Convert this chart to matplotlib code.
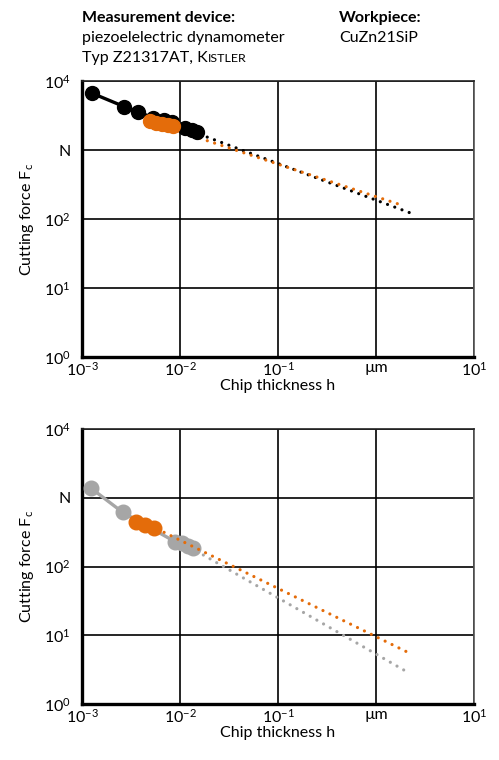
import numpy as np
import matplotlib
matplotlib.use("Agg")
import matplotlib.pyplot as plt

plt.rcParams["font.family"] = ["Lato", "DejaVu Sans"]
plt.rcParams["mathtext.fontset"] = "custom"
plt.rcParams["mathtext.rm"] = "Lato"
plt.rcParams["mathtext.it"] = "Lato:italic"
plt.rcParams["mathtext.bf"] = "Lato:bold"

# top chart: measured points (h in um, Fc in N)
top_black_h = [0.00127, 0.0027, 0.00376, 0.0053, 0.00687, 0.00828, 0.01124, 0.01325, 0.0149]
top_black_f = [6640, 4250, 3590, 2910, 2720, 2550, 2085, 1950, 1820]
top_orange_h = [0.00494, 0.00569, 0.00655, 0.00755, 0.0085]
top_orange_f = [2630, 2460, 2380, 2300, 2230]
# extrapolation lines (start, end)
top_black_trend_h = [0.016, 2.29]
top_black_trend_f = [1683, 121]
top_orange_trend_h = [0.00955, 1.90]
top_orange_trend_f = [1884, 156]

# bottom chart
bot_gray_h = [0.00124, 0.0026, 0.00889, 0.0104, 0.01216, 0.01368]
bot_gray_f = [1372, 614, 230, 217, 199, 184]
bot_orange_h = [0.00356, 0.00439, 0.00547]
bot_orange_f = [449, 402, 360]
bot_gray_trend_h = [0.0173, 2.06]
bot_gray_trend_f = [147, 2.95]
bot_orange_trend_h = [0.00688, 2.11]
bot_orange_trend_f = [314, 5.65]

x_ticks = [1e-3, 1e-2, 1e-1, 1e0, 1e1]
x_labels = [r"$\mathregular{10^{-3}}$", r"$\mathregular{10^{-2}}$", r"$\mathregular{10^{-1}}$",
            "µm", r"$\mathregular{10^{1}}$"]
y_ticks = [1e0, 1e1, 1e2, 1e3, 1e4]
y_labels = [r"$\mathregular{10^{0}}$", r"$\mathregular{10^{1}}$", r"$\mathregular{10^{2}}$",
            "N", r"$\mathregular{10^{4}}$"]

ORANGE = "#E46C0A"
GRAY = "#A6A6A6"
FS = 11.5
DOT = (0, (0.01, 2.4))

W, H = 499, 760
fig = plt.figure(figsize=(W / 100, H / 100), dpi=100)
ax_top = fig.add_axes([82 / W, 1 - 357 / H, 392 / W, 276 / H])
ax_bot = fig.add_axes([82 / W, 1 - 704 / H, 392 / W, 275 / H])


def style_axes(ax):
    ax.set_xscale("log")
    ax.set_yscale("log")
    ax.set_xlim(1e-3, 1e1)
    ax.set_ylim(1e0, 1e4)
    ax.set_xticks(x_ticks)
    ax.set_xticklabels(x_labels, fontsize=FS)
    ax.set_yticks(y_ticks)
    ax.set_yticklabels(y_labels, fontsize=FS)
    ax.minorticks_off()
    ax.tick_params(axis="x", length=0, pad=3)
    ax.tick_params(axis="y", length=0, pad=8)
    ax.grid(True, color="black", linewidth=1.2)
    ax.set_axisbelow(True)
    ax.spines["left"].set_linewidth(2.4)
    ax.spines["bottom"].set_linewidth(2.4)
    ax.spines["top"].set_linewidth(1.2)
    ax.spines["right"].set_linewidth(1.2)
    ax.spines["top"].set_color("#222222")
    ax.spines["right"].set_color("#555555")
    ax.set_xlabel("Chip thickness h", fontsize=FS, labelpad=0)
    ax.set_ylabel(r"Cutting force F$_\mathregular{c}$", fontsize=FS, labelpad=6)


for ax in (ax_top, ax_bot):
    style_axes(ax)

# top chart
ax_top.plot(top_black_trend_h, top_black_trend_f, color="black", lw=2.3,
            linestyle=DOT, dash_capstyle="round", zorder=3)
ax_top.plot(top_orange_trend_h, top_orange_trend_f, color=ORANGE, lw=2.3,
            linestyle=DOT, dash_capstyle="round", zorder=3)
ax_top.plot(top_black_h, top_black_f, color="black", lw=2.4, marker="o",
            markersize=10, zorder=4)
ax_top.plot(top_orange_h, top_orange_f, color=ORANGE, lw=2.2, marker="o",
            markersize=10, zorder=5)

# bottom chart
ax_bot.plot(bot_gray_h, bot_gray_f, color=GRAY, lw=2.4, marker="o",
            markersize=10.5, zorder=3)
ax_bot.plot(bot_gray_trend_h, bot_gray_trend_f, color=GRAY, lw=2.3,
            linestyle=DOT, dash_capstyle="round", zorder=4)
ax_bot.plot(bot_orange_trend_h, bot_orange_trend_f, color=ORANGE, lw=2.3,
            linestyle=DOT, dash_capstyle="round", zorder=4)
ax_bot.plot(bot_orange_h, bot_orange_f, color=ORANGE, lw=2.2, marker="o",
            markersize=10.5, zorder=5)

# header
fig.text(82 / W, 1 - 22 / H, "Measurement device:", fontsize=FS, fontweight="bold",
         va="baseline")
fig.text(82 / W, 1 - 42 / H, "piezoelelectric dynamometer", fontsize=FS, va="baseline")
t_typ = fig.text(82 / W, 1 - 62 / H, "Typ Z21317AT, K", fontsize=FS, va="baseline")
fig.text(339 / W, 1 - 22 / H, "Workpiece:", fontsize=FS, fontweight="bold", va="baseline")
fig.text(339 / W, 1 - 42 / H, "CuZn21SiP", fontsize=FS, va="baseline")

fig.canvas.draw()
bb = t_typ.get_window_extent()
fig.text(bb.x1 / W, 1 - 62 / H, "ISTLER", fontsize=FS * 0.78, va="baseline")

fig.savefig("out.png", dpi=100)
